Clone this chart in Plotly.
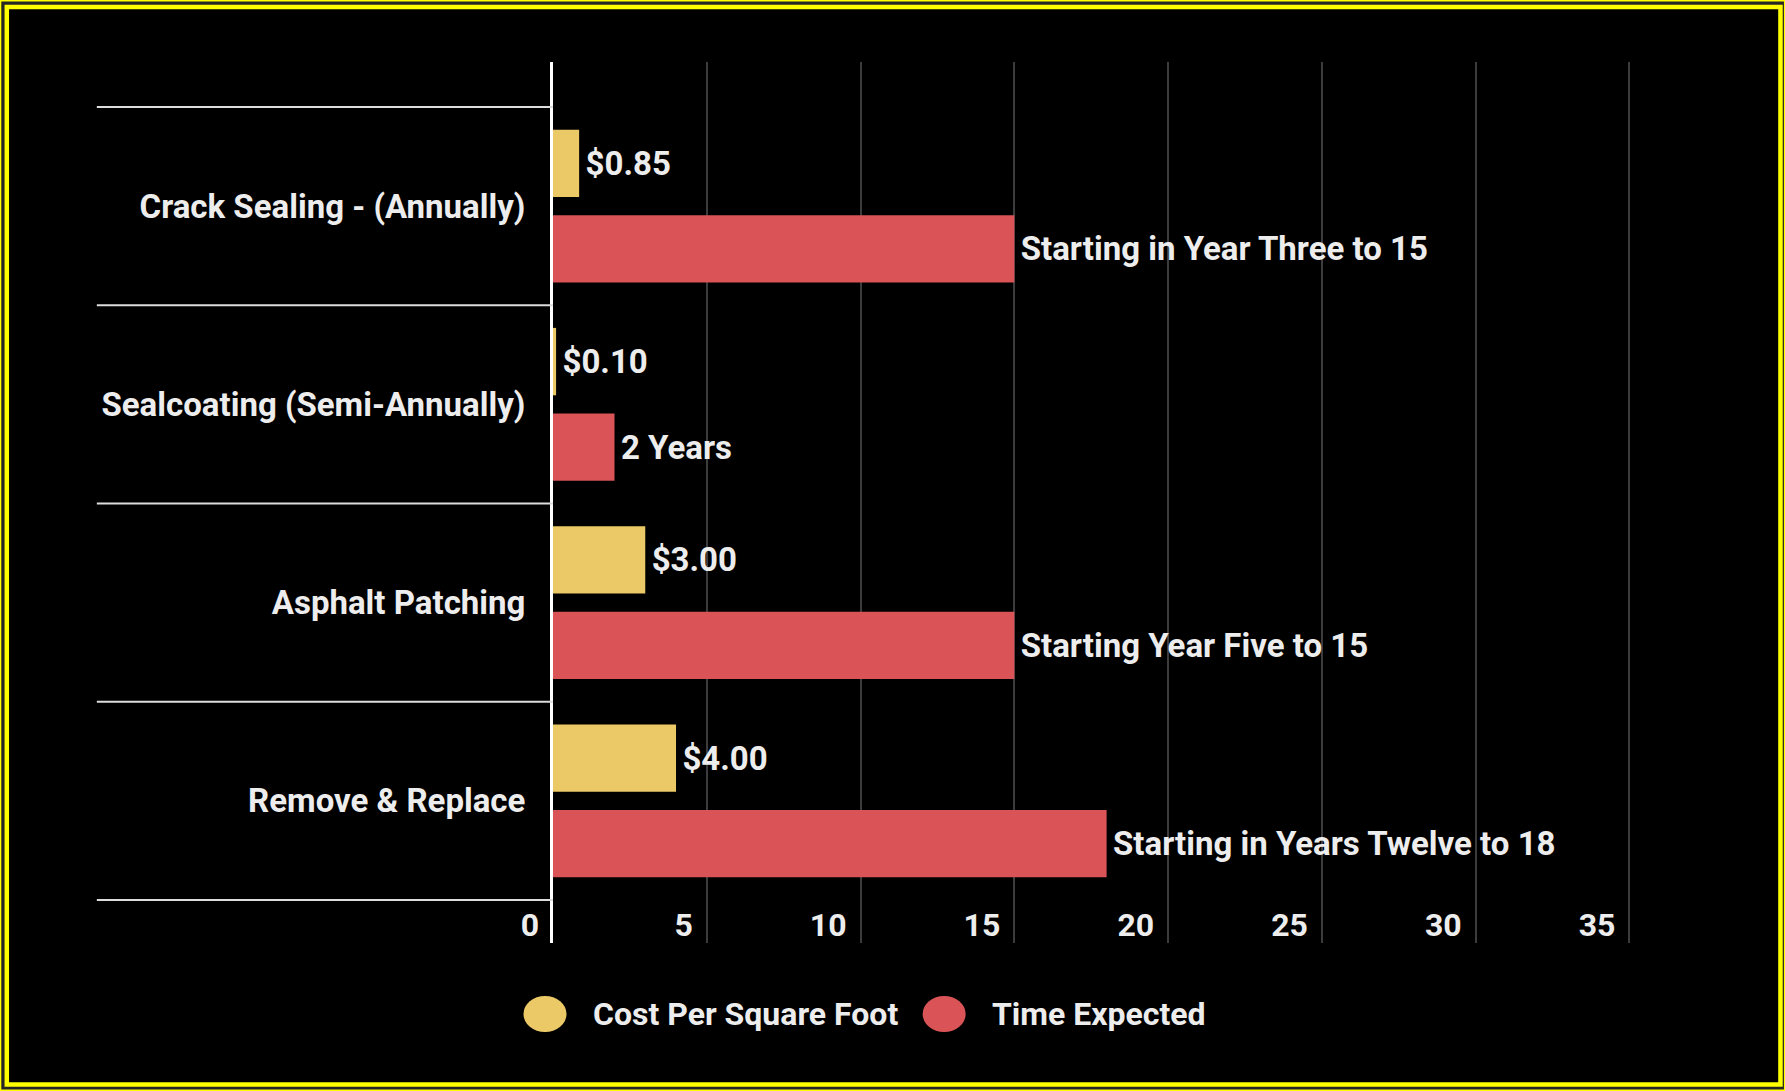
import plotly.graph_objects as go

# ---- data ----
categories = ["Crack Sealing - (Annually)", "Sealcoating (Semi-Annually)",
              "Asphalt Patching", "Remove & Replace"]
cost_values = [0.85, 0.10, 3.00, 4.00]
cost_labels = ["$0.85", "$0.10", "$3.00", "$4.00"]
time_values = [15, 2, 15, 18]
time_labels = ["Starting in Year Three to 15", "2 Years",
               "Starting Year Five to 15", "Starting in Years Twelve to 18"]
series_names = ["Cost Per Square Foot", "Time Expected"]
x_ticks = [0, 5, 10, 15, 20, 25, 30, 35]

# ---- style ----
W, H = 1785, 1091
L, T = 553, 62
PLOT_W = 1077.6
PLOT_H = 881
R = W - L - PLOT_W
B = H - T - PLOT_H
YELLOW = "#ECC967"
RED = "#DA5457"
TXT = "#EDEDED"
FONT = "Roboto"


def px(x):
    return (x - L) / PLOT_W


def py(y):
    return (T + PLOT_H - y) / PLOT_H


tfont = dict(color=TXT, size=32, family=FONT, weight=700)
lfont = dict(color=TXT, size=33, family=FONT, weight=700)

fig = go.Figure()
fig.add_trace(go.Bar(
    y=categories, x=cost_values, orientation="h", name=series_names[0],
    marker=dict(color=YELLOW, line=dict(width=0)),
    text=cost_labels, texttemplate="\u200a%{text}", textposition="outside", cliponaxis=False,
    textfont=lfont, showlegend=False,
))
fig.add_trace(go.Bar(
    y=categories, x=time_values, orientation="h", name=series_names[1],
    marker=dict(color=RED, line=dict(width=0)),
    text=time_labels, texttemplate="\u200a%{text}", textposition="outside", cliponaxis=False,
    textfont=lfont, showlegend=False,
))

shapes = []
# outer frame
shapes.append(dict(type="rect", xref="paper", yref="paper", layer="below",
                   x0=px(0), x1=px(W), y0=py(H), y1=py(0),
                   fillcolor="#262626", line=dict(color="#FFFF00", width=3)))
shapes.append(dict(type="rect", xref="paper", yref="paper", layer="below",
                   x0=px(7), x1=px(1780), y0=py(1084.5), y1=py(7),
                   fillcolor="#000000", line=dict(color="#FFFF00", width=4.5)))
# category separators
for b in [-0.5, 0.5, 1.5, 2.5, 3.5]:
    shapes.append(dict(type="line", xref="paper", yref="y",
                       x0=px(97), x1=0, y0=b, y1=b,
                       line=dict(color="#DDDDDD", width=2)))

# manual legend
LEG_Y = 1014
legend_items = [(545, YELLOW, 591, series_names[0]), (944, RED, 990, series_names[1])]
annotations = []
for cx, col, tx, name in legend_items:
    shapes.append(dict(type="circle", xref="paper", yref="paper",
                       x0=px(cx - 21.5), x1=px(cx + 21.5), y0=py(LEG_Y + 18), y1=py(LEG_Y - 18),
                       fillcolor=col, line=dict(width=0)))
    annotations.append(dict(xref="paper", yref="paper", x=px(tx), y=py(LEG_Y),
                            xanchor="left", yanchor="middle", showarrow=False,
                            text=name, font=tfont))

fig.update_layout(
    width=W, height=H,
    margin=dict(l=L, r=R, t=T, b=B, pad=0),
    paper_bgcolor="#000000", plot_bgcolor="#000000",
    barmode="group", bargap=0.137, bargroupgap=0.212,
    font=tfont,
    shapes=shapes, annotations=annotations,
)
fig.update_xaxes(
    range=[0, 35.05], tickvals=x_ticks, ticktext=[str(v) for v in x_ticks],
    showgrid=True, gridcolor="#3C3C3C", gridwidth=1.5,
    zeroline=False, showline=False, ticks="",
    ticklabelposition="inside left", ticklabeloverflow="allow",
    ticklabelshift=-14, ticklabelstandoff=-5,
    tickfont=tfont,
)
fig.update_yaxes(
    type="category", categoryorder="array", categoryarray=categories,
    range=[3.717, -0.727],
    showgrid=False, zeroline=False, showline=True, linecolor="#FFFFFF", linewidth=3,
    ticks="", ticklabelstandoff=18,
    tickfont=lfont,
)

fig.write_html("out.html", config={"displayModeBar": False},
               post_script="document.body.style.margin='0px';document.body.style.background='#000';")
